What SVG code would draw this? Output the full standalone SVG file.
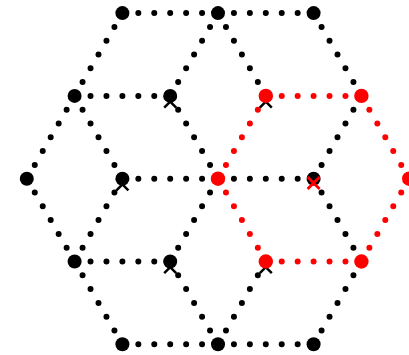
<svg xmlns="http://www.w3.org/2000/svg" width="409" height="355" viewBox="0 0 409 355">
<style>
.e{fill:none;stroke:#000;stroke-width:6;stroke-linecap:round;stroke-dasharray:0 15.933}
.r{stroke:#f00}
.n{fill:#000}
.nr{fill:#f00}
.x{stroke:#000;stroke-width:2.5;fill:none}
.xr{stroke:#f00;stroke-width:2.8;fill:none}
</style>
<defs>
<path id="xm" d="M-6,-6 L6,6 M6,-6 L-6,6"/>
</defs>
<rect width="409" height="355" fill="#fff"/>
<g id="connectors">
<line class="e" x1="122.4" y1="13.1" x2="218" y2="13.1"/>
<line class="e" x1="218" y1="13.1" x2="313.6" y2="13.1"/>
<line class="e" x1="74.6" y1="95.9" x2="170.2" y2="95.9"/>
<line class="e r" x1="265.8" y1="95.9" x2="361.4" y2="95.9"/>
<line class="e" x1="122.4" y1="178.7" x2="218" y2="178.7"/>
<line class="e" x1="218" y1="178.7" x2="313.6" y2="178.7"/>
<line class="e" x1="74.6" y1="261.5" x2="170.2" y2="261.5"/>
<line class="e r" x1="265.8" y1="261.5" x2="361.4" y2="261.5"/>
<line class="e" x1="122.4" y1="344.3" x2="218" y2="344.3"/>
<line class="e" x1="218" y1="344.3" x2="313.6" y2="344.3"/>
<line class="e" x1="122.4" y1="13.1" x2="74.6" y2="95.9"/>
<line class="e" x1="218" y1="13.1" x2="170.2" y2="95.9"/>
<line class="e" x1="218" y1="13.1" x2="265.8" y2="95.9"/>
<line class="e" x1="313.6" y1="13.1" x2="361.4" y2="95.9"/>
<line class="e" x1="74.6" y1="95.9" x2="26.8" y2="178.7"/>
<line class="e" x1="74.6" y1="95.9" x2="122.4" y2="178.7"/>
<line class="e" x1="170.2" y1="95.9" x2="218" y2="178.7"/>
<line class="e r" x1="265.8" y1="95.9" x2="218" y2="178.7"/>
<line class="e" x1="361.4" y1="95.9" x2="313.6" y2="178.7"/>
<line class="e r" x1="361.4" y1="95.9" x2="409.2" y2="178.7"/>
<line class="e" x1="26.8" y1="178.7" x2="74.6" y2="261.5"/>
<line class="e" x1="122.4" y1="178.7" x2="74.6" y2="261.5"/>
<line class="e" x1="218" y1="178.7" x2="170.2" y2="261.5"/>
<line class="e r" x1="218" y1="178.7" x2="265.8" y2="261.5"/>
<line class="e" x1="313.6" y1="178.7" x2="361.4" y2="261.5"/>
<line class="e r" x1="409.2" y1="178.7" x2="361.4" y2="261.5"/>
<line class="e" x1="74.6" y1="261.5" x2="122.4" y2="344.3"/>
<line class="e" x1="170.2" y1="261.5" x2="218" y2="344.3"/>
<line class="e" x1="265.8" y1="261.5" x2="218" y2="344.3"/>
<line class="e" x1="361.4" y1="261.5" x2="313.6" y2="344.3"/>
</g>
<g id="marks">
<use href="#xm" class="x" x="170.2" y="101.6"/>
<use href="#xm" class="x" x="265.8" y="101.6"/>
<use href="#xm" class="x" x="122.4" y="184.4"/>
<use href="#xm" class="x" x="170.2" y="267.2"/>
<use href="#xm" class="x" x="265.8" y="267.2"/>
</g>
<g id="n1"><circle class="n" cx="122.4" cy="13.1" r="7"/></g>
<g id="n2"><circle class="n" cx="218" cy="13.1" r="7"/></g>
<g id="n3"><circle class="n" cx="313.6" cy="13.1" r="7"/></g>
<g id="n4"><circle class="n" cx="74.6" cy="95.9" r="7"/></g>
<g id="n5"><circle class="n" cx="170.2" cy="95.9" r="7"/></g>
<g id="n6"><circle class="nr" cx="265.8" cy="95.9" r="7.2"/></g>
<g id="n7"><circle class="nr" cx="361.4" cy="95.9" r="7.2"/></g>
<g id="n8"><circle class="n" cx="26.8" cy="178.7" r="7"/></g>
<g id="n9"><circle class="n" cx="122.4" cy="178.7" r="7"/></g>
<g id="n10"><circle class="nr" cx="218" cy="178.7" r="7.2"/></g>
<g id="n11"><circle class="n" cx="313.6" cy="178.7" r="7"/><use href="#xm" class="xr" x="313.6" y="183"/></g>
<g id="n12"><circle class="nr" cx="409.2" cy="178.7" r="7.2"/></g>
<g id="n13"><circle class="n" cx="74.6" cy="261.5" r="7"/></g>
<g id="n14"><circle class="n" cx="170.2" cy="261.5" r="7"/></g>
<g id="n15"><circle class="nr" cx="265.8" cy="261.5" r="7.2"/></g>
<g id="n16"><circle class="nr" cx="361.4" cy="261.5" r="7.2"/></g>
<g id="n17"><circle class="n" cx="122.4" cy="344.3" r="7"/></g>
<g id="n18"><circle class="n" cx="218" cy="344.3" r="7"/></g>
<g id="n19"><circle class="n" cx="313.6" cy="344.3" r="7"/></g>
</svg>
